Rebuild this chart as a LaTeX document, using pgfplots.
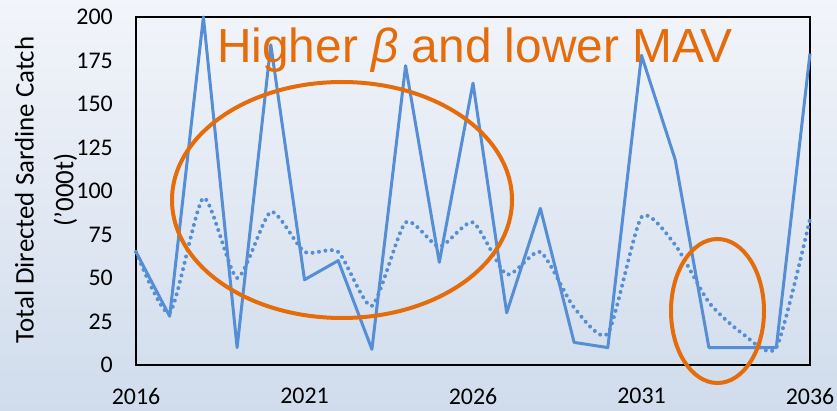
\documentclass[border=0pt]{standalone}
\usepackage{fontspec}
\setmainfont{Carlito}
\newfontfamily\arialfont{Liberation Sans}
\usepackage{pgfplots}
\pgfplotsset{compat=1.18}
\definecolor{serblue}{RGB}{85,142,213}
\definecolor{annor}{RGB}{228,108,10}
\definecolor{bgtop}{RGB}{242,245,250}
\definecolor{bgbot}{RGB}{208,220,236}
\begin{document}
\begin{tikzpicture}
\shade[top color=bgtop, bottom color=bgbot] (-136bp,-46bp) rectangle (701bp,365bp);
\begin{axis}[at={(0,0)}, anchor=south west, scale only axis,
  width=674bp, height=348bp,
  xmin=2016, xmax=2036, ymin=0, ymax=200,
  xtick={2016,2021,2026,2031,2036}, ytick={0,25,...,200},
  major tick length=0,
  /pgf/number format/assume math mode=true,
  /pgf/number format/1000 sep={},
  tick label style={font=\fontsize{24}{26}\selectfont, inner sep=0pt},
  xticklabel style={yshift=-23bp},
  yticklabel style={xshift=-23bp},
  axis line style={black, line width=1.3bp},
  clip=false,
  ylabel={Total Directed Sardine Catch\\('000t)},
  ylabel style={at={(axis description cs:-0.1335,0.503)}, anchor=center, align=center, font=\fontsize{27}{40}\selectfont},
]
\addplot[serblue, line width=3bp, line join=round] coordinates {
(2016,65)(2017,28)(2018,200)(2019,10)(2020,184)(2021,49)(2022,60)(2023,9)(2024,172)(2025,59)(2026,162)(2027,30)(2028,90)(2029,13)(2030,10)(2031,178)(2032,118)(2033,10)(2034,10)(2035,10)(2036,179)};
\addplot[serblue, smooth, tension=0.38, line width=4bp, line cap=round, dash pattern=on 0pt off 6.5bp] coordinates {
(2016,65)(2017,30)(2018,96)(2019,50)(2020,88)(2021,65)(2022,65)(2023,34)(2024,82)(2025,68)(2026,82)(2027,52)(2028,65)(2029,33)(2030,18)(2031,85)(2032,69)(2033,36)(2034,18)(2035,10)(2036,84)};
\end{axis}
\draw[annor, line width=4bp] (206bp,165bp) ellipse [x radius=170bp, y radius=118bp];
\draw[annor, line width=4bp] (581.5bp,54bp) ellipse [x radius=46.5bp, y radius=72bp];
\node[anchor=base west, text=annor, inner sep=0pt, font=\arialfont\fontsize{48}{50}\selectfont] at (81bp,302bp) {Higher {\itshape β} and lower MAV};
\end{tikzpicture}
\end{document}
